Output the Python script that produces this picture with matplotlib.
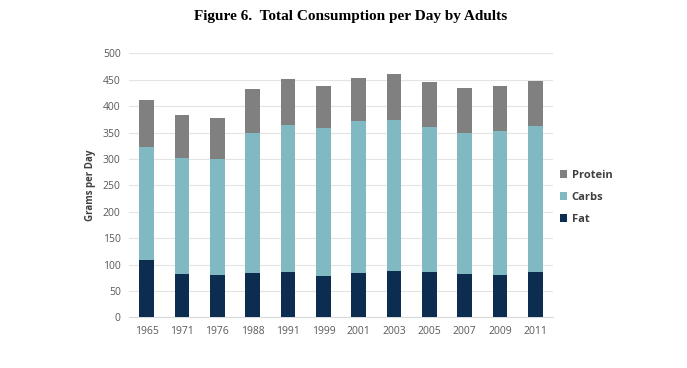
import numpy as np
import matplotlib.pyplot as plt

years = ['1965', '1971', '1976', '1988', '1991', '1999', '2001', '2003', '2005', '2007', '2009', '2011']
fat = [108, 82, 81, 83, 86, 78, 83, 87, 85, 82, 80, 85]
carbs = [214, 220, 219, 266, 278, 280, 288, 287, 275, 268, 272, 277]
protein = [90, 81, 77, 83, 88, 81, 83, 86, 86, 84, 86, 86]

fat_color = '#0c2d50'
carb_color = '#80b9c1'
prot_color = '#808080'
tick_color = '#595959'

fig = plt.figure(figsize=(6.87, 3.68), dpi=100)
ax = fig.add_axes([0.1878, 0.1378, 0.6172, 0.7172])

x = np.arange(len(years))
w = 0.42
fat_arr = np.array(fat)
carb_arr = np.array(carbs)
ax.bar(x, fat_arr, w, color=fat_color, label='Fat', zorder=3)
ax.bar(x, carb_arr, w, bottom=fat_arr, color=carb_color, label='Carbs', zorder=3)
ax.bar(x, protein, w, bottom=fat_arr + carb_arr, color=prot_color, label='Protein', zorder=3)

ax.set_xlim(-0.5, len(years) - 0.5)
ax.set_ylim(0, 500)
ax.set_yticks(range(0, 501, 50))
ax.set_xticks(x)
ax.set_xticklabels(years)
ax.grid(axis='y', color='#e4e4e4', linewidth=0.8, zorder=0)
for s in ['top', 'right', 'left']:
    ax.spines[s].set_visible(False)
ax.spines['bottom'].set_color('#d9d9d9')
ax.tick_params(length=0, labelsize=7.5, colors=tick_color, pad=6)
for lab in ax.get_xticklabels() + ax.get_yticklabels():
    lab.set_family('Open Sans')

ax.set_ylabel('Grams per Day', fontsize=7, fontweight='bold', color='#404040',
              family='Open Sans', labelpad=5)

handles, labels = ax.get_legend_handles_labels()
leg = fig.legend(handles[::-1], labels[::-1], loc='center left', bbox_to_anchor=(0.8, 0.463),
                 frameon=False, handlelength=0.7, handleheight=0.7,
                 handletextpad=0.4, labelspacing=1.0,
                 prop={'family': 'Open Sans', 'weight': 'bold', 'size': 8})
for t in leg.get_texts():
    t.set_color('#404040')

fig.text(0.51, 0.955, 'Figure 6.  Total Consumption per Day by Adults', ha='center', va='center',
         fontsize=11, fontweight='bold', family='Liberation Serif')

fig.savefig('out.png', dpi=100)
